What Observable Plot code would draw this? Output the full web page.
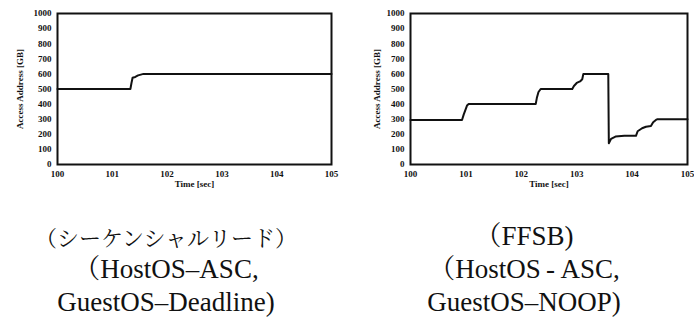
<!DOCTYPE html>
<html><head><meta charset="utf-8">
<script src="https://cdn.jsdelivr.net/npm/d3@7"></script>
<script src="https://cdn.jsdelivr.net/npm/@observablehq/plot@0.6"></script>
<style>
body{margin:0;background:#fff;}
#wrap{position:relative;width:694px;height:329px;overflow:hidden;background:#fff;}
.chart{position:absolute;top:0;}
.cap{position:absolute;top:220px;text-align:center;line-height:33px;color:#111;white-space:nowrap;}
.lat{font-family:'Liberation Serif','Noto Serif CJK JP',serif;font-size:27px;}
.jp{font-family:'Noto Serif CJK JP',serif;font-size:22px;}
</style></head>
<body>
<div id="wrap">
  <div id="c1" class="chart" style="left:0px"></div>
  <div id="c2" class="chart" style="left:347px"></div>
  <div id="cap1" class="cap" style="left:0px;width:332px"></div>
  <div id="cap2" class="cap" style="left:354px;width:340px"></div>
</div>
<script>
// Data
const xTicks = [100, 101, 102, 103, 104, 105];
const yTicks = [0, 100, 200, 300, 400, 500, 600, 700, 800, 900, 1000];
const xLabel = "Time [sec]";
const yLabel = "Access Address [GB]";
const caption1 = ["（シーケンシャルリード）", "（HostOS–ASC,", "GuestOS–Deadline)"];
const caption2 = ["（FFSB)", "（HostOS\u2009‐\u2009ASC,", "GuestOS–NOOP)"];

const seqTime = [100, 101.33, 101.35, 101.37, 101.42, 101.47, 101.57, 105];
const seqAddr = [500, 500, 540, 575, 580, 590, 600, 600];

const ffsbTime = [100, 100.93, 100.96, 100.99, 101.02, 101.05, 102.26, 102.28, 102.31, 102.35, 102.92, 102.95, 103.0, 103.06, 103.1, 103.12, 103.57, 103.58, 103.62, 103.7, 103.86, 104.07, 104.1, 104.18, 104.25, 104.34, 104.38, 104.43, 104.46, 105];
const ffsbAddr = [295, 295, 330, 360, 390, 400, 400, 440, 480, 500, 500, 520, 540, 550, 565, 600, 600, 140, 170, 185, 190, 190, 220, 240, 250, 255, 280, 295, 300, 300];

function chart(t, v, ml, mr, lo) {
  const data = t.map((x, i) => ({x, y: v[i]}));
  return Plot.plot({
    width: 347, height: 195,
    marginLeft: ml, marginRight: mr, marginTop: 13, marginBottom: 31,
    style: {fontFamily: "'Liberation Serif', serif", fontSize: "9px", fontWeight: "bold", color: "#111", background: "transparent", overflow: "visible"},
    x: {domain: [100, 105]},
    y: {domain: [0, 1000]},
    marks: [
      Plot.axisX({ticks: xTicks, tickSize: 0, tickPadding: 6, label: xLabel, labelAnchor: "center", labelArrow: false, labelOffset: 22, tickFormat: d => String(d)}),
      Plot.axisY({ticks: yTicks, tickSize: 0, tickPadding: 6, label: yLabel, labelAnchor: "center", labelArrow: false, labelOffset: lo, tickFormat: d => String(d)}),
      Plot.line(data, {x: "x", y: "y", stroke: "#111", strokeWidth: 2}),
      Plot.frame({stroke: "#111", strokeWidth: 2})
    ]
  });
}
document.getElementById("c1").appendChild(chart(seqTime, seqAddr, 57, 16, 41));
document.getElementById("c2").appendChild(chart(ffsbTime, ffsbAddr, 63, 7, 37));

function fillCap(id, lines, jpFirst) {
  const el = document.getElementById(id);
  lines.forEach((s, i) => {
    const d = document.createElement("div");
    d.textContent = s;
    d.className = (jpFirst && i === 0) ? "jp" : "lat";
    el.appendChild(d);
  });
}
fillCap("cap1", caption1, true);
fillCap("cap2", caption2, false);
</script>
</body></html>
